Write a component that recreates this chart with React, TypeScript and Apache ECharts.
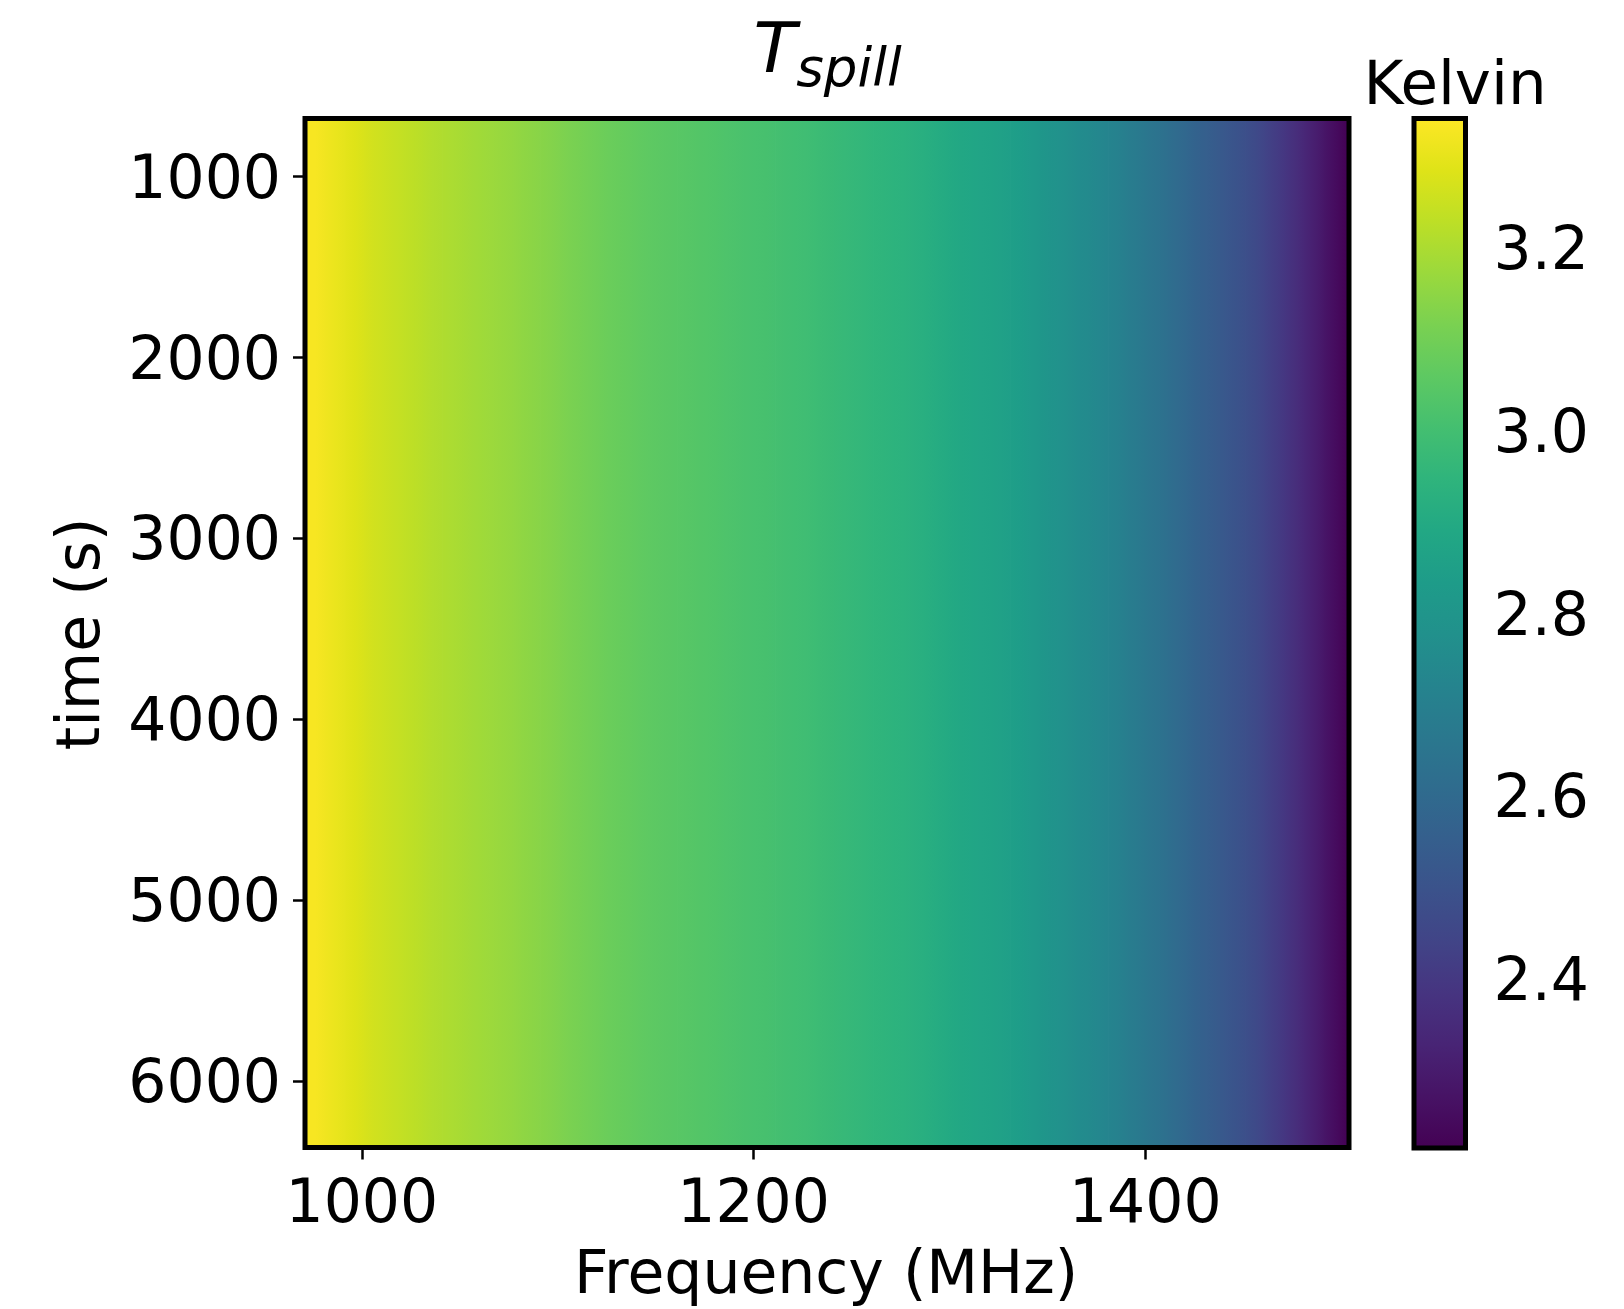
import React, { useEffect, useRef } from "react";
import * as echarts from "echarts";

// Frequency channels (MHz) and the spill temperature (K)
const FREQ_MHZ = [
  976, 986, 996, 1006, 1016, 1026, 1036, 1046, 1056, 1066, 1076, 1086, 1096, 1106,
  1116, 1126, 1136, 1146, 1156, 1166, 1176, 1186, 1196, 1206, 1216, 1226, 1236, 1246,
  1256, 1266, 1276, 1286, 1296, 1306, 1316, 1326, 1336, 1346, 1356, 1366, 1376, 1386,
  1396, 1406, 1416, 1426, 1436, 1446, 1456, 1466, 1476, 1486, 1496, 1502,
];
const T_SPILL_K = [
  3.331, 3.308, 3.286, 3.263, 3.246, 3.229, 3.212, 3.199, 3.186, 3.174, 3.162, 3.148, 3.134, 3.117,
  3.101, 3.085, 3.073, 3.06, 3.051, 3.043, 3.035, 3.026, 3.017, 3.01, 3.001, 2.992, 2.98, 2.968,
  2.957, 2.946, 2.936, 2.922, 2.905, 2.888, 2.873, 2.86, 2.838, 2.81, 2.782, 2.758, 2.736, 2.707,
  2.675, 2.641, 2.604, 2.568, 2.535, 2.503, 2.465, 2.416, 2.365, 2.311, 2.254, 2.222,
];

const FREQ_RANGE = [971, 1504];
const TIME_RANGE = [678, 6369];
const X_TICKS = [1000, 1200, 1400];
const Y_TICKS = [1000, 2000, 3000, 4000, 5000, 6000];
const CBAR_RANGE = [2.215, 3.342];
const CBAR_TICKS = [2.4, 2.6, 2.8, 3.0, 3.2];

const TITLE_MAIN = "T";
const TITLE_SUB = "spill";
const X_NAME = "Frequency (MHz)";
const Y_NAME = "time (s)";
const CBAR_NAME = "Kelvin";

const VIRIDIS = [
  "#440154", "#471365", "#482475", "#463480", "#414487", "#3b528b", "#355f8d",
  "#2f6c8e", "#2a788e", "#25848e", "#21918c", "#1e9c89", "#22a884", "#2fb47c",
  "#44bf70", "#5ec962", "#7ad151", "#9bd93c", "#bddf26", "#dfe318", "#fde725",
];

const FONT = "DejaVu Sans";

function hexToRgb(h: string) {
  return [parseInt(h.slice(1, 3), 16), parseInt(h.slice(3, 5), 16), parseInt(h.slice(5, 7), 16)];
}

function viridis(v: number) {
  let t = (v - CBAR_RANGE[0]) / (CBAR_RANGE[1] - CBAR_RANGE[0]);
  t = Math.max(0, Math.min(1, t));
  const pos = t * (VIRIDIS.length - 1);
  const i = Math.min(VIRIDIS.length - 2, Math.floor(pos));
  const f = pos - i;
  const a = hexToRgb(VIRIDIS[i]);
  const b = hexToRgb(VIRIDIS[i + 1]);
  const c = a.map((x, k) => Math.round(x + (b[k] - x) * f));
  return `rgb(${c[0]},${c[1]},${c[2]})`;
}

// layout (page coordinates; body margin removed)
const MAIN = { left: 305, top: 118.5, width: 1044, height: 1029 };
const CBAR = { left: 1414, top: 118.5, width: 51.5, height: 1029.5 };

export default function App() {
  const ref = useRef<HTMLDivElement>(null);

  useEffect(() => {
    if (!ref.current) return;
    document.body.style.margin = "0";
    document.body.style.overflow = "hidden";
    const chart = echarts.init(ref.current, undefined, { renderer: "svg" });

    const heatData = FREQ_MHZ.map((f, i) => [f, T_SPILL_K[i], i]);
    const n = FREQ_MHZ.length;

    const tickStyle = { color: "#000", width: 2.5 };
    const labelStyle = { fontSize: 60, fontFamily: FONT, color: "#000" };
    const intFmt = (v: number) => String(Math.round(v));

    const option: any = {
      animation: false,
      backgroundColor: "#fff",
      grid: [
        { ...MAIN, containLabel: false },
        { ...CBAR, containLabel: false },
      ],
      xAxis: [
        {
          type: "value",
          gridIndex: 0,
          min: FREQ_RANGE[0],
          max: FREQ_RANGE[1],
          axisLine: { show: false },
          splitLine: { show: false },
          axisTick: { show: true, customValues: X_TICKS, length: 12, lineStyle: tickStyle },
          axisLabel: { ...labelStyle, customValues: X_TICKS, margin: 23, formatter: intFmt },
        },
        {
          type: "value",
          gridIndex: 1,
          min: 0,
          max: 1,
          show: false,
        },
      ],
      yAxis: [
        {
          type: "value",
          gridIndex: 0,
          inverse: true,
          min: TIME_RANGE[0],
          max: TIME_RANGE[1],
          axisLine: { show: false },
          splitLine: { show: false },
          axisTick: { show: true, customValues: Y_TICKS, length: 12, lineStyle: tickStyle },
          axisLabel: { ...labelStyle, customValues: Y_TICKS, margin: 24, formatter: intFmt },
        },
        {
          type: "value",
          gridIndex: 1,
          position: "right",
          min: CBAR_RANGE[0],
          max: CBAR_RANGE[1],
          axisLine: { show: false },
          splitLine: { show: false },
          axisTick: { show: true, customValues: CBAR_TICKS, length: 12, lineStyle: tickStyle },
          axisLabel: {
            ...labelStyle,
            customValues: CBAR_TICKS,
            margin: 28,
            formatter: (v: number) => v.toFixed(1),
          },
        },
      ],
      series: [
        {
          type: "custom",
          xAxisIndex: 0,
          yAxisIndex: 0,
          clip: true,
          data: heatData,
          renderItem: (params: any, api: any) => {
            const i = api.value(2);
            const v = T_SPILL_K[i];
            const leftF = i === 0 ? FREQ_RANGE[0] : (FREQ_MHZ[i - 1] + FREQ_MHZ[i]) / 2;
            const rightF = i === n - 1 ? FREQ_RANGE[1] : (FREQ_MHZ[i] + FREQ_MHZ[i + 1]) / 2;
            const leftV = i === 0 ? v : (T_SPILL_K[i - 1] + v) / 2;
            const rightV = i === n - 1 ? v : (T_SPILL_K[i + 1] + v) / 2;
            const p0 = api.coord([leftF, TIME_RANGE[0]]);
            const p1 = api.coord([rightF, TIME_RANGE[1]]);
            const mid = (FREQ_MHZ[i] - leftF) / (rightF - leftF);
            return {
              type: "rect",
              shape: {
                x: p0[0],
                y: Math.min(p0[1], p1[1]),
                width: p1[0] - p0[0] + 0.8,
                height: Math.abs(p1[1] - p0[1]),
              },
              style: {
                fill: new echarts.graphic.LinearGradient(0, 0, 1, 0, [
                  { offset: 0, color: viridis(leftV) },
                  { offset: Math.max(0, Math.min(1, mid)), color: viridis(v) },
                  { offset: 1, color: viridis(rightV) },
                ]),
                stroke: null,
              },
            };
          },
        },
        {
          type: "custom",
          xAxisIndex: 1,
          yAxisIndex: 1,
          data: [[0, CBAR_RANGE[0]]],
          renderItem: (params: any, api: any) => {
            const p0 = api.coord([0, CBAR_RANGE[1]]);
            const p1 = api.coord([1, CBAR_RANGE[0]]);
            return {
              type: "rect",
              shape: { x: p0[0], y: p0[1], width: p1[0] - p0[0], height: p1[1] - p0[1] },
              style: {
                fill: new echarts.graphic.LinearGradient(
                  0, 1, 0, 0,
                  VIRIDIS.map((c, k) => ({ offset: k / (VIRIDIS.length - 1), color: c }))
                ),
              },
            };
          },
        },
      ],
      graphic: [
        {
          type: "rect",
          z: 100,
          shape: { x: MAIN.left, y: MAIN.top, width: MAIN.width, height: MAIN.height },
          style: { fill: "none", stroke: "#000", lineWidth: 5 },
        },
        {
          type: "rect",
          z: 100,
          shape: { x: CBAR.left, y: CBAR.top, width: CBAR.width, height: CBAR.height },
          style: { fill: "none", stroke: "#000", lineWidth: 5 },
        },
        {
          type: "text",
          z: 100,
          x: 827.5,
          y: 13,
          style: {
            text: `{t|${TITLE_MAIN}}{s|${TITLE_SUB}}`,
            align: "center",
            verticalAlign: "top",
            rich: {
              t: { fontSize: 70, lineHeight: 70, fontStyle: "italic", fontFamily: FONT, fill: "#000", verticalAlign: "top" },
              s: { fontSize: 53, lineHeight: 53, fontStyle: "italic", fontFamily: FONT, fill: "#000", verticalAlign: "top", padding: [28, 0, 0, 0] },
            },
          },
        },
        {
          type: "text",
          z: 100,
          x: 1455,
          y: 82,
          style: { text: CBAR_NAME, fontSize: 61, fontFamily: FONT, fill: "#000", align: "center", verticalAlign: "middle" },
        },
        {
          type: "text",
          z: 100,
          x: 826,
          y: 1272,
          style: { text: X_NAME, fontSize: 60, fontFamily: FONT, fill: "#000", align: "center", verticalAlign: "middle" },
        },
        {
          type: "text",
          z: 100,
          x: 77.6,
          y: 634,
          rotation: Math.PI / 2,
          style: { text: Y_NAME, fontSize: 60, fontFamily: FONT, fill: "#000", align: "center", verticalAlign: "middle" },
        },
      ],
    };

    chart.setOption(option);
    return () => chart.dispose();
  }, []);

  return <div ref={ref} style={{ width: 1624, height: 1309 }} />;
}
